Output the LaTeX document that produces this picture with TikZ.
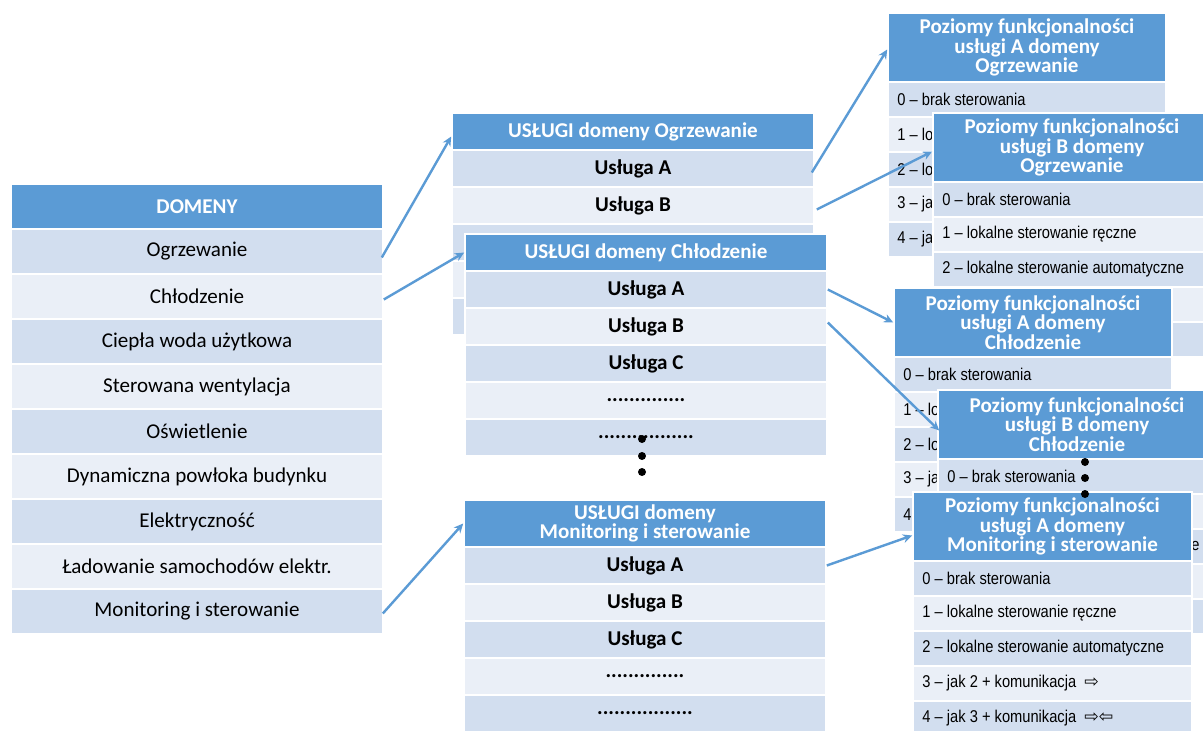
\documentclass[tikz,border=0pt]{standalone}
\usepackage{fontspec}
\setmainfont{Carlito}
\newfontfamily\arialn[FakeStretch=0.86]{Liberation Sans}
\newfontfamily\dvs{DejaVu Sans}
\usetikzlibrary{arrows.meta}
\definecolor{hblue}{HTML}{5B9BD5}
\definecolor{rdark}{HTML}{D2DEEF}
\definecolor{rlight}{HTML}{EAEFF7}
\tikzset{
 cellbase/.style={rectangle, draw=white, line width=1.2pt, inner sep=0pt, text=black},
 hdr/.style={cellbase, fill=hblue, text=white, font=\fontsize{15.8pt}{13.3pt}\selectfont\bfseries, align=center},
 dk/.style={cellbase, fill=rdark},
 lt/.style={cellbase, fill=rlight},
 dom/.style={font=\fontsize{15.8pt}{18pt}\selectfont},
 svc/.style={font=\fontsize{15.8pt}{18pt}\selectfont\bfseries},
 lvl/.style={anchor=west, inner sep=0pt, font=\arialn\fontsize{12.8pt}{14pt}\selectfont, text=black},
 conn/.style={draw=hblue, line width=1.8pt, -{Stealth[length=7pt,width=6.5pt]}},
 bigdot/.style={circle, fill=black, inner sep=0pt, minimum size=6pt}
}
\newcommand\cellnode[7]{\node[#2,minimum width={(#5-(#3))*0.75pt},minimum height={(#6-(#4))*0.75pt}] (#1) at ({(#3+#5)/2},{(#4+#6)/2}) {#7};}
\newcommand\leveltable[5]{%
 \cellnode{#1h}{hdr}{#2}{#3}{#4}{#3+69}{#5}
 \cellnode{#1r0}{dk}{#2}{#3+69}{#4}{#3+104}{}
 \cellnode{#1r1}{lt}{#2}{#3+104}{#4}{#3+139}{}
 \cellnode{#1r2}{dk}{#2}{#3+139}{#4}{#3+174}{}
 \cellnode{#1r3}{lt}{#2}{#3+174}{#4}{#3+209}{}
 \cellnode{#1r4}{dk}{#2}{#3+209}{#4}{#3+244}{}
}
\newcommand\lvtext[3]{\node[lvl] (#1t#2) at ([xshift=7.5pt]#1r#2.west) {#3};}
\newcommand\arr[1]{{\dvs\fontsize{13pt}{14pt}\selectfont #1}}
\begin{document}
\begin{tikzpicture}[x=0.75pt,y=-0.75pt]
\useasboundingbox (0,0) rectangle (1203,731);
\clip (0,0) rectangle (1203,731);
\fill[white] (0,0) rectangle (1203,731);
% DOMENY
\cellnode{dh}{hdr}{11}{184}{383}{229}{DOMENY}
\cellnode{d1}{dk,dom}{11}{229}{383}{274}{Ogrzewanie}
\cellnode{d2}{lt,dom}{11}{274}{383}{319}{Chłodzenie}
\cellnode{d3}{dk,dom}{11}{319}{383}{364}{Ciepła woda użytkowa}
\cellnode{d4}{lt,dom}{11}{364}{383}{409}{Sterowana wentylacja}
\cellnode{d5}{dk,dom}{11}{409}{383}{454}{Oświetlenie}
\cellnode{d6}{lt,dom}{11}{454}{383}{499}{Dynamiczna powłoka budynku}
\cellnode{d7}{dk,dom}{11}{499}{383}{544}{Elektryczność}
\cellnode{d8}{lt,dom}{11}{544}{383}{589}{Ładowanie samochodów elektr.}
\cellnode{d9}{dk,dom}{11}{589}{383}{634}{Monitoring i sterowanie}
% USLUGI Ogrzewanie (lower rows hidden)
\cellnode{uoh}{hdr}{452}{113}{814}{150}{USŁUGI domeny Ogrzewanie}
\cellnode{uo1}{dk,svc}{452}{150}{814}{187}{Usługa A}
\cellnode{uo2}{lt,svc}{452}{187}{814}{224}{Usługa B}
\cellnode{uo3}{dk,svc}{452}{224}{814}{261}{}
\cellnode{uo4}{lt,svc}{452}{261}{814}{298}{}
\cellnode{uo5}{dk,svc}{452}{298}{814}{335}{}
% USLUGI Chlodzenie
\cellnode{uch}{hdr}{465}{234}{827}{271}{USŁUGI domeny Chłodzenie}
\cellnode{uc1}{dk,svc}{465}{271}{827}{308}{Usługa A}
\cellnode{uc2}{lt,svc}{465}{308}{827}{345}{Usługa B}
\cellnode{uc3}{dk,svc}{465}{345}{827}{382}{Usługa C}
\cellnode{uc4}{lt,svc}{465}{382}{827}{419}{..............}
\cellnode{uc5}{dk,svc}{465}{419}{827}{456}{.................}
% USLUGI Monitoring
\cellnode{umh}{hdr}{464}{500}{826}{547}{USŁUGI domeny\\Monitoring i sterowanie}
\cellnode{um1}{dk,svc}{464}{547}{826}{584}{Usługa A}
\cellnode{um2}{lt,svc}{464}{584}{826}{621}{Usługa B}
\cellnode{um3}{dk,svc}{464}{621}{826}{658}{Usługa C}
\cellnode{um4}{lt,svc}{464}{658}{826}{695}{..............}
\cellnode{um5}{dk,svc}{464}{695}{826}{732}{.................}
% level tables
\leveltable{pa}{888}{13}{1166}{Poziomy funkcjonalności\\usługi A domeny\\Ogrzewanie}
\lvtext{pa}{0}{0 – brak sterowania}
\lvtext{pa}{1}{1 – lo}
\lvtext{pa}{2}{2 – lo}
\lvtext{pa}{3}{3 – ja}
\lvtext{pa}{4}{4 – ja}
\leveltable{pb}{933}{113}{1211}{Poziomy funkcjonalności\\usługi B domeny\\Ogrzewanie}
\lvtext{pb}{0}{0 – brak sterowania}
\lvtext{pb}{1}{1 – lokalne sterowanie ręczne}
\lvtext{pb}{2}{2 – lokalne sterowanie automatyczne}
\leveltable{pc}{894}{288}{1172}{Poziomy funkcjonalności\\usługi A domeny\\Chłodzenie}
\lvtext{pc}{0}{0 – brak sterowania}
\lvtext{pc}{1}{1 – lo}
\lvtext{pc}{2}{2 – lo}
\lvtext{pc}{3}{3 – ja}
\lvtext{pc}{4}{4}
\leveltable{pd}{938}{390}{1216}{Poziomy funkcjonalności\\usługi B domeny\\Chłodzenie}
\lvtext{pd}{0}{0 – brak sterowania}
\node[lvl] (pdt2) at (1191,545.5) {e};
\leveltable{pe}{913}{492}{1192}{Poziomy funkcjonalności\\usługi A domeny\\Monitoring i sterowanie}
\lvtext{pe}{0}{0 – brak sterowania}
\lvtext{pe}{1}{1 – lokalne sterowanie ręczne}
\lvtext{pe}{2}{2 – lokalne sterowanie automatyczne}
\lvtext{pe}{3}{3 – jak 2 + komunikacja \ \arr{⇨}}
\lvtext{pe}{4}{4 – jak 3 + komunikacja \ \arr{⇨⇦}}
% connectors
\draw[conn] ([shift={(-2,6)}]d1.east) -- ([shift={(0,5)}]uoh.west);
\draw[conn] ([shift={(0,3)}]d2.east) -- (uch.west);
\draw[conn] ([shift={(-1,2)}]d9.east) -- (umh.west);
\draw[conn] ([shift={(-3,4)}]uo1.east) -- ([shift={(0,2)}]pah.west);
\draw[conn] ([shift={(2,4)}]uo2.east) -- ([shift={(0,4)}]pbh.west);
\draw[conn] (uc1.east) -- (pch.west);
\draw[conn] ([shift={(0,-4)}]uc2.east) -- ([shift={(2,6)}]pdh.west);
\draw[conn] (um1.east) -- ([shift={(0,9)}]peh.west);
% vertical ellipsis dots
\node[bigdot] (m1) at (642,439) {};
\node[bigdot] (m2) at (642,456) {};
\node[bigdot] (m3) at (642,472) {};
\node[bigdot] (n1) at (1085,462) {};
\node[bigdot] (n2) at (1085,478) {};
\node[bigdot] (n3) at (1085,494) {};
\end{tikzpicture}
\end{document}
